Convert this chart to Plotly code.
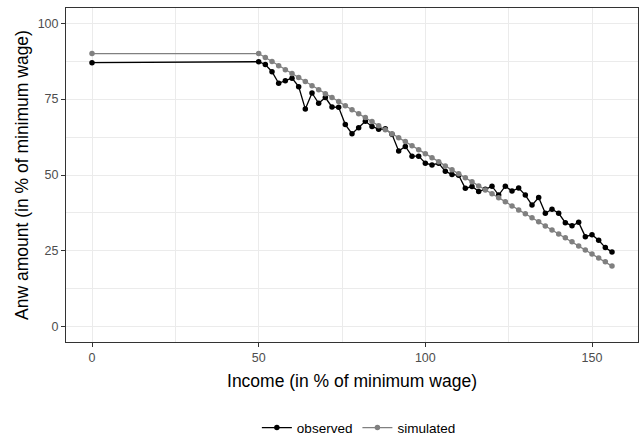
import plotly.graph_objects as go

income = [0, 50, 52, 54, 56, 58, 60, 62, 64, 66, 68, 70, 72, 74, 76, 78, 80, 82, 84, 86, 88,
          90, 92, 94, 96, 98, 100, 102, 104, 106, 108, 110, 112, 114, 116, 118, 120, 122,
          124, 126, 128, 130, 132, 134, 136, 138, 140, 142, 144, 146, 148, 150, 152, 154, 156]

observed = [87.0, 87.3, 86.4, 84.0, 80.2, 81.0, 81.9, 79.1, 71.7, 77.0, 73.6, 75.5, 72.4, 72.3,
            66.6, 63.6, 65.6, 67.7, 66.0, 65.1, 65.2, 63.4, 57.9, 59.4, 56.2, 56.2, 53.9, 53.3,
            53.9, 51.2, 50.2, 49.9, 45.6, 46.2, 44.6, 45.3, 46.3, 43.4, 46.3, 44.7, 45.7, 43.4,
            40.1, 42.6, 37.4, 38.7, 37.4, 34.3, 33.3, 34.4, 29.7, 30.3, 28.5, 26.1, 24.6]

simulated = [90.0, 90.0, 88.7, 87.4, 86.0, 84.7, 83.4, 82.1, 80.8, 79.4, 78.1, 76.8, 75.5, 74.2,
             72.8, 71.5, 70.2, 68.9, 67.6, 66.2, 64.9, 63.6, 62.3, 61.0, 59.6, 58.3, 57.0, 55.7,
             54.4, 53.0, 51.7, 50.4, 49.1, 47.8, 46.4, 45.1, 43.8, 42.5, 41.2, 39.8, 38.5, 37.2,
             35.9, 34.6, 33.2, 31.9, 30.6, 29.3, 28.0, 26.6, 25.3, 24.0, 22.7, 21.4, 20.0]

x_ticks = [0, 50, 100, 150]
y_ticks = [0, 25, 50, 75, 100]

FONT = "Liberation Sans, Arial, sans-serif"

fig = go.Figure()
fig.add_trace(go.Scatter(x=income, y=observed, name="observed", mode="lines+markers",
                         line=dict(color="#000000", width=1.3),
                         marker=dict(color="#000000", size=5.5)))
fig.add_trace(go.Scatter(x=income, y=simulated, name="simulated", mode="lines+markers",
                         line=dict(color="#808080", width=1.3),
                         marker=dict(color="#808080", size=5.5)))

axis_common = dict(
    showline=True, linecolor="#333333", linewidth=1, mirror=True,
    ticks="outside", ticklen=4, tickcolor="#333333", tickwidth=1,
    tickfont=dict(size=12.5, color="#4D4D4D", family=FONT),
    showgrid=True, gridcolor="#EBEBEB", gridwidth=1.2,
    zeroline=False, automargin=False,
)

fig.update_layout(
    width=641, height=439,
    margin=dict(l=66, r=3, t=8, b=97, autoexpand=False),
    paper_bgcolor="white", plot_bgcolor="white",
    font=dict(family=FONT, color="#000000"),
    xaxis=dict(axis_common, range=[-7.8, 163.8], tickvals=x_ticks,
               ticktext=[str(v) for v in x_ticks],
               minor=dict(showgrid=True, gridcolor="#EBEBEB", gridwidth=0.6, ticks="",
                          tickvals=[25, 75, 125]),
               title=dict(text="Income (in % of minimum wage)", font=dict(size=17.5, color="#000000"),
                          standoff=10)),
    yaxis=dict(axis_common, range=[-5, 105], tickvals=y_ticks,
               ticktext=[str(v) for v in y_ticks],
               minor=dict(showgrid=True, gridcolor="#EBEBEB", gridwidth=0.6, ticks="",
                          tickvals=[12.5, 37.5, 62.5, 87.5]),
               title=dict(text="Anw amount (in % of minimum wage)", font=dict(size=17.5, color="#000000"),
                          standoff=4)),
    legend=dict(orientation="h", x=0.512, xanchor="center", y=-0.257, yanchor="middle",
                font=dict(size=13.5, color="#000000", family=FONT), itemwidth=30,
                bgcolor="rgba(0,0,0,0)"),
    showlegend=True,
)

fig.write_html("out.html", config={"displayModeBar": False},
               post_script="document.body.style.margin='0';document.body.style.overflow='hidden';")
